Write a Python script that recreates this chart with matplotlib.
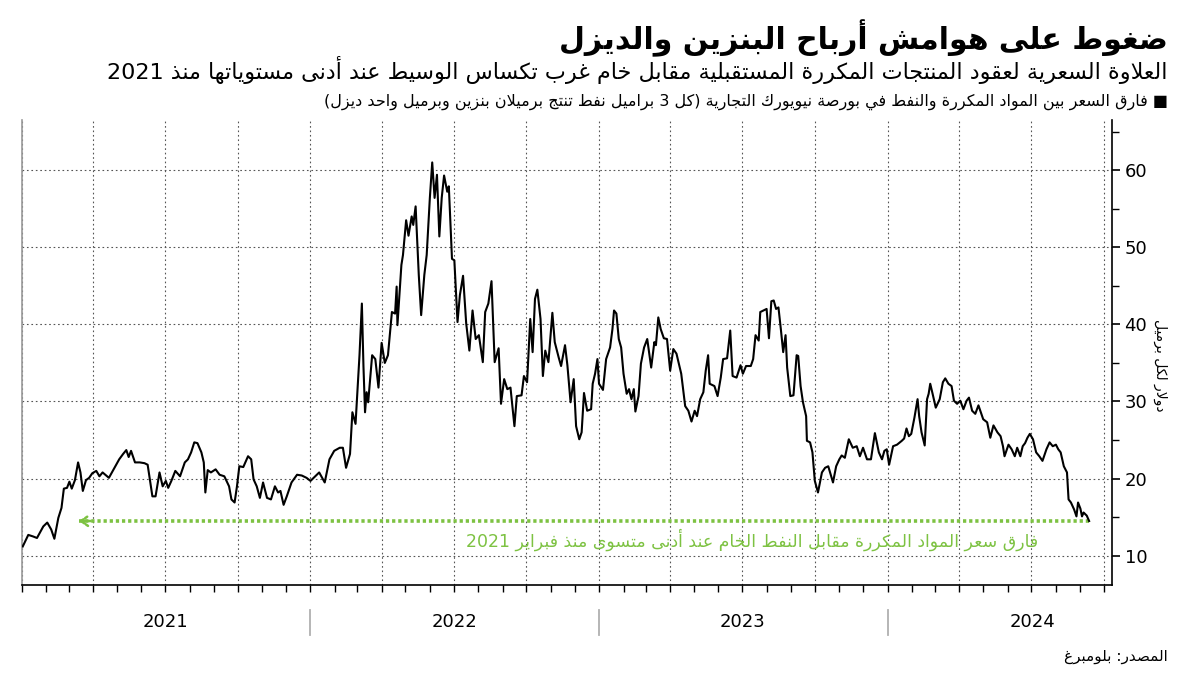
import re
import numpy as np
import pandas as pd
import matplotlib
matplotlib.use('Agg')
import matplotlib.pyplot as plt
import matplotlib.dates as mdates
import matplotlib.transforms as mtransforms
from matplotlib.ticker import MultipleLocator

# refined-products vs crude spread, USD per barrel
dates_2021 = ['2021-01-02', '2021-01-09', '2021-01-15', '2021-01-20', '2021-01-28', '2021-02-02', '2021-02-07',
              '2021-02-11', '2021-02-16', '2021-02-20', '2021-02-23', '2021-02-27', '2021-03-02', '2021-03-05',
              '2021-03-09', '2021-03-13', '2021-03-16', '2021-03-19', '2021-03-23', '2021-03-27', '2021-03-31',
              '2021-04-05', '2021-04-09', '2021-04-13', '2021-04-21', '2021-04-28', '2021-05-04', '2021-05-09',
              '2021-05-13', '2021-05-16', '2021-05-19', '2021-05-24', '2021-05-30', '2021-06-05', '2021-06-09',
              '2021-06-15', '2021-06-19', '2021-06-24', '2021-06-28', '2021-07-02', '2021-07-05', '2021-07-09',
              '2021-07-14', '2021-07-20', '2021-07-26', '2021-07-30', '2021-08-03', '2021-08-07', '2021-08-11',
              '2021-08-16', '2021-08-19', '2021-08-21', '2021-08-24', '2021-08-28', '2021-09-03', '2021-09-08',
              '2021-09-14', '2021-09-20', '2021-09-23', '2021-09-27', '2021-09-30', '2021-10-03', '2021-10-08',
              '2021-10-14', '2021-10-18', '2021-10-21', '2021-10-25', '2021-10-29', '2021-11-02', '2021-11-07',
              '2021-11-12', '2021-11-17', '2021-11-21', '2021-11-24', '2021-11-28', '2021-12-02', '2021-12-08',
              '2021-12-15', '2021-12-21', '2021-12-27']
spread_2021 = [11.2, 12.7, 12.5, 12.3, 13.8, 14.3, 13.4, 12.2, 14.9, 16.2, 18.7, 18.8, 19.6, 18.7,
               19.8, 22.1, 20.8, 18.4, 19.8, 20.1, 20.7, 21.0, 20.3, 20.8, 20.1, 21.4, 22.5, 23.2,
               23.7, 22.8, 23.6, 22.1, 22.1, 22.0, 21.8, 17.7, 17.7, 20.8, 19.0, 19.7, 18.8, 19.7,
               21.0, 20.3, 22.1, 22.5, 23.4, 24.7, 24.6, 23.4, 22.1, 18.2, 21.1, 20.8, 21.2, 20.5,
               20.3, 19.0, 17.3, 16.9, 19.0, 21.6, 21.5, 22.9, 22.5, 19.9, 19.0, 17.5, 19.5, 17.5,
               17.3, 19.0, 18.2, 18.4, 16.6, 17.7, 19.5, 20.5, 20.4, 20.1]

dates_2022 = ['2022-01-01', '2022-01-07', '2022-01-12', '2022-01-19', '2022-01-25', '2022-01-31', '2022-02-07',
              '2022-02-11', '2022-02-15', '2022-02-20', '2022-02-23', '2022-02-27', '2022-03-02', '2022-03-04',
              '2022-03-07', '2022-03-09', '2022-03-11', '2022-03-13', '2022-03-15', '2022-03-20', '2022-03-24',
              '2022-03-28', '2022-04-01', '2022-04-05', '2022-04-09', '2022-04-14', '2022-04-18', '2022-04-20',
              '2022-04-21', '2022-04-26', '2022-04-28', '2022-05-02', '2022-05-05', '2022-05-09', '2022-05-11',
              '2022-05-14', '2022-05-18', '2022-05-21', '2022-05-25', '2022-05-28', '2022-06-01', '2022-06-04',
              '2022-06-07', '2022-06-10', '2022-06-13', '2022-06-16', '2022-06-19', '2022-06-23', '2022-06-25',
              '2022-06-29', '2022-07-02', '2022-07-06', '2022-07-09', '2022-07-13', '2022-07-17', '2022-07-21',
              '2022-07-25', '2022-07-29', '2022-08-02', '2022-08-07', '2022-08-10', '2022-08-14', '2022-08-18',
              '2022-08-22', '2022-08-27', '2022-08-30', '2022-09-03', '2022-09-07', '2022-09-11', '2022-09-16',
              '2022-09-19', '2022-09-25', '2022-09-28', '2022-10-02', '2022-10-06', '2022-10-09', '2022-10-12',
              '2022-10-15', '2022-10-19', '2022-10-22', '2022-10-25', '2022-10-29', '2022-11-03', '2022-11-06',
              '2022-11-11', '2022-11-14', '2022-11-19', '2022-11-22', '2022-11-26', '2022-11-30', '2022-12-03',
              '2022-12-07', '2022-12-10', '2022-12-13', '2022-12-17', '2022-12-22', '2022-12-24', '2022-12-27',
              '2022-12-30']
spread_2022 = [19.7, 20.3, 20.8, 19.5, 22.5, 23.6, 24.0, 24.0, 21.4, 23.2, 28.6, 27.1, 32.5, 36.0,
               42.7, 34.6, 28.6, 31.2, 29.9, 36.0, 35.5, 31.8, 37.6, 35.0, 36.0, 41.6, 41.4, 44.9,
               39.9, 47.7, 49.0, 53.5, 51.5, 54.0, 52.9, 55.3, 46.4, 41.2, 46.4, 49.0, 56.4, 61.0,
               56.4, 59.4, 51.4, 56.4, 59.3, 57.2, 57.9, 48.5, 48.3, 40.3, 43.8, 46.3, 40.1, 36.6,
               41.8, 38.1, 38.6, 35.1, 41.6, 42.7, 45.6, 35.1, 36.9, 29.7, 32.9, 31.6, 31.8, 26.8,
               30.7, 30.8, 33.3, 32.5, 40.7, 36.4, 43.3, 44.5, 40.7, 33.3, 36.6, 35.1, 41.5, 37.7,
               35.7, 34.6, 37.3, 34.7, 29.9, 32.9, 26.8, 25.1, 26.0, 31.1, 28.8, 29.0, 32.3, 33.6,
               35.5]

dates_2023 = ['2023-01-01', '2023-01-06', '2023-01-10', '2023-01-15', '2023-01-18', '2023-01-20', '2023-01-23',
              '2023-01-26', '2023-01-29', '2023-02-01', '2023-02-05', '2023-02-08', '2023-02-11', '2023-02-14',
              '2023-02-16', '2023-02-20', '2023-02-23', '2023-02-27', '2023-03-03', '2023-03-08', '2023-03-12',
              '2023-03-14', '2023-03-17', '2023-03-20', '2023-03-24', '2023-03-28', '2023-04-01', '2023-04-05',
              '2023-04-09', '2023-04-15', '2023-04-20', '2023-04-24', '2023-04-28', '2023-05-02', '2023-05-05',
              '2023-05-09', '2023-05-13', '2023-05-16', '2023-05-19', '2023-05-21', '2023-05-27', '2023-05-31',
              '2023-06-04', '2023-06-07', '2023-06-12', '2023-06-16', '2023-06-19', '2023-06-24', '2023-06-29',
              '2023-07-02', '2023-07-06', '2023-07-12', '2023-07-15', '2023-07-18', '2023-07-22', '2023-07-24',
              '2023-07-28', '2023-08-01', '2023-08-04', '2023-08-07', '2023-08-10', '2023-08-13', '2023-08-16',
              '2023-08-19', '2023-08-22', '2023-08-25', '2023-08-27', '2023-08-31', '2023-09-04', '2023-09-08',
              '2023-09-10', '2023-09-13', '2023-09-16', '2023-09-20', '2023-09-21', '2023-09-25', '2023-09-28',
              '2023-10-01', '2023-10-05', '2023-10-10', '2023-10-14', '2023-10-18', '2023-10-24', '2023-10-28',
              '2023-11-01', '2023-11-04', '2023-11-08', '2023-11-13', '2023-11-18', '2023-11-23', '2023-11-27',
              '2023-12-01', '2023-12-06', '2023-12-11', '2023-12-16', '2023-12-21', '2023-12-25', '2023-12-28',
              '2023-12-31']
spread_2023 = [32.3, 31.5, 35.5, 37.0, 39.4, 41.8, 41.4, 38.1, 37.0, 33.6, 31.0, 31.6, 30.3, 31.6,
               28.7, 30.7, 34.9, 37.0, 38.1, 34.4, 37.7, 37.3, 40.9, 39.4, 38.2, 38.1, 34.0, 36.8,
               36.2, 33.6, 29.4, 28.8, 27.4, 28.8, 28.1, 30.3, 31.2, 34.0, 36.0, 32.3, 32.0, 30.7,
               33.1, 35.5, 35.6, 39.2, 33.3, 33.1, 34.7, 33.6, 34.6, 34.6, 35.5, 38.6, 37.9, 41.6,
               41.8, 42.0, 38.2, 43.0, 43.1, 42.0, 42.2, 39.4, 36.4, 38.6, 34.4, 30.7, 30.8, 36.0,
               35.9, 32.0, 29.9, 28.1, 24.9, 24.7, 23.4, 19.7, 18.2, 20.8, 21.4, 21.6, 19.5, 21.6,
               22.5, 23.0, 22.7, 25.1, 24.0, 24.2, 22.9, 24.0, 22.5, 22.5, 25.9, 23.4, 22.5, 23.6,
               23.8]

dates_2024 = ['2024-01-03', '2024-01-08', '2024-01-13', '2024-01-19', '2024-01-22', '2024-01-25', '2024-01-28',
              '2024-01-31', '2024-02-04', '2024-02-08', '2024-02-10', '2024-02-13', '2024-02-17', '2024-02-20',
              '2024-02-22', '2024-02-24', '2024-02-27', '2024-03-02', '2024-03-07', '2024-03-11', '2024-03-14',
              '2024-03-18', '2024-03-22', '2024-03-25', '2024-03-29', '2024-04-02', '2024-04-06', '2024-04-10',
              '2024-04-13', '2024-04-17', '2024-04-21', '2024-04-25', '2024-05-01', '2024-05-06', '2024-05-10',
              '2024-05-14', '2024-05-19', '2024-05-23', '2024-05-26', '2024-05-28', '2024-06-02', '2024-06-06',
              '2024-06-10', '2024-06-13', '2024-06-17', '2024-06-20', '2024-06-23', '2024-06-26', '2024-06-29',
              '2024-07-03', '2024-07-07', '2024-07-11', '2024-07-15', '2024-07-20', '2024-07-24', '2024-07-28',
              '2024-08-01', '2024-08-04', '2024-08-07', '2024-08-11', '2024-08-15', '2024-08-17', '2024-08-20',
              '2024-08-24', '2024-08-27', '2024-08-29', '2024-09-01', '2024-09-03', '2024-09-05', '2024-09-09',
              '2024-09-12']
spread_2024 = [21.8, 24.2, 24.4, 24.9, 25.2, 26.5, 25.5, 25.8, 27.9, 30.3, 28.1, 26.0, 24.3, 30.3,
               31.0, 32.3, 31.0, 29.2, 30.3, 32.5, 33.0, 32.3, 32.0, 30.1, 29.7, 30.1, 29.0, 30.1,
               30.5, 28.8, 28.4, 29.5, 27.7, 27.3, 25.3, 26.9, 26.0, 25.5, 24.2, 22.9, 24.4, 23.8,
               22.9, 24.0, 22.9, 24.2, 24.6, 25.3, 25.8, 25.1, 23.4, 22.9, 22.3, 23.8, 24.7, 24.2,
               24.4, 23.8, 23.4, 21.6, 20.8, 17.3, 16.9, 16.0, 15.1, 16.9, 16.1, 15.1, 15.6, 15.2,
               14.5]

years = ['2021', '2022', '2023', '2024']
arrow_from = '2021-03-14'

title = 'ضغوط على هوامش أرباح البنزين والديزل'
subtitle = 'العلاوة السعرية لعقود المنتجات المكررة المستقبلية مقابل خام غرب تكساس الوسيط عند أدنى مستوياتها منذ 2021'
legend_txt = '■ فارق السعر بين المواد المكررة والنفط في بورصة نيويورك التجارية (كل 3 براميل نفط تنتج برميلان بنزين وبرميل واحد ديزل)'
note_txt = 'فارق سعر المواد المكررة مقابل النفط الخام عند أدنى متسوى منذ فبراير 2021'
ylabel_txt = 'دولار لكل برميل'
source_txt = 'المصدر: بلومبرغ'

# --- minimal arabic shaping + right-to-left ordering (no reshaper libs available) ---
JOIN4 = {'ئ': 0xFE89, 'ب': 0xFE8F, 'ت': 0xFE95, 'ث': 0xFE99, 'ج': 0xFE9D, 'ح': 0xFEA1, 'خ': 0xFEA5,
         'س': 0xFEB1, 'ش': 0xFEB5, 'ص': 0xFEB9, 'ض': 0xFEBD, 'ط': 0xFEC1, 'ظ': 0xFEC5, 'ع': 0xFEC9,
         'غ': 0xFECD, 'ف': 0xFED1, 'ق': 0xFED5, 'ك': 0xFED9, 'ل': 0xFEDD, 'م': 0xFEE1, 'ن': 0xFEE5,
         'ه': 0xFEE9, 'ي': 0xFEF1}
JOIN2 = {'آ': 0xFE81, 'أ': 0xFE83, 'ؤ': 0xFE85, 'إ': 0xFE87, 'ا': 0xFE8D, 'ة': 0xFE93, 'د': 0xFEA9,
         'ذ': 0xFEAB, 'ر': 0xFEAD, 'ز': 0xFEAF, 'و': 0xFEED, 'ى': 0xFEEF}
LAMALEF = {'آ': 0xFEF5, 'أ': 0xFEF7, 'إ': 0xFEF9, 'ا': 0xFEFB}


def shape(s):
    chars = []
    i = 0
    while i < len(s):
        if s[i] == 'ل' and i + 1 < len(s) and s[i + 1] in LAMALEF:
            chars.append(('LA', LAMALEF[s[i + 1]]))
            i += 2
        else:
            chars.append((s[i], None))
            i += 1
    out = []
    for k, c in enumerate(chars):
        can_prev = c[0] in JOIN4 or c[0] in JOIN2 or c[0] == 'LA'
        prev = k > 0 and chars[k - 1][0] in JOIN4 and can_prev
        nxt = (k + 1 < len(chars) and c[0] in JOIN4 and
               (chars[k + 1][0] in JOIN4 or chars[k + 1][0] in JOIN2 or chars[k + 1][0] == 'LA'))
        if c[0] == 'LA':
            out.append(chr(c[1] + (1 if prev else 0)))
        elif c[0] in JOIN4:
            off = 3 if (prev and nxt) else 2 if nxt else 1 if prev else 0
            out.append(chr(JOIN4[c[0]] + off))
        elif c[0] in JOIN2:
            out.append(chr(JOIN2[c[0]] + (1 if prev else 0)))
        else:
            out.append(c[0])
    return ''.join(out)


def rtl(s):
    mirror = {'(': ')', ')': '('}
    parts = re.split(r'(\d+)', shape(s))
    res = []
    for p in reversed(parts):
        if p.isdigit():
            res.append(p)
        else:
            res.append(''.join(mirror.get(ch, ch) for ch in reversed(p)))
    return ''.join(res)


plt.rcParams['font.family'] = ['DejaVu Sans']

dates = pd.to_datetime(dates_2021 + dates_2022 + dates_2023 + dates_2024)
spread = np.array(spread_2021 + spread_2022 + spread_2023 + spread_2024)

green = '#7dc242'

fig = plt.figure(figsize=(12, 6.75), dpi=100)
ax = fig.add_axes([0.0183, 0.1333, 0.9084, 0.6889])

ax.plot(dates, spread, color='black', lw=1.5, zorder=3)

# green dotted arrow back to the last time the spread was this low
start = pd.Timestamp(arrow_from)
ax.plot([start, dates[-1]], [spread[-1], spread[-1]], color=green, lw=2.6,
        linestyle=(0, (0.9, 0.8)), zorder=2)
ax.annotate('', xy=(start, spread[-1]), xytext=(start + pd.Timedelta(days=15), spread[-1]),
            arrowprops=dict(arrowstyle='->,head_length=0.5,head_width=0.35', color=green, lw=1.8,
                            linestyle=(0, (1, 0.8)), shrinkA=0, shrinkB=0), zorder=2)
ax.text(pd.Timestamp('2024-07-09'), 12.1, rtl(note_txt), color=green, fontsize=12.5,
        ha='right', va='center')

ax.set_xlim(pd.Timestamp('2021-01-01'), pd.Timestamp('2024-10-11'))
ax.set_ylim(6.2, 66.5)

ax.xaxis.set_major_locator(mdates.MonthLocator(bymonth=[1, 4, 7, 10]))
ax.xaxis.set_minor_locator(mdates.MonthLocator())
ax.tick_params(axis='x', which='both', length=5, width=1, labelbottom=False, color='black')

ax.yaxis.tick_right()
ax.yaxis.set_major_locator(MultipleLocator(10))
ax.yaxis.set_minor_locator(MultipleLocator(5))
ax.tick_params(axis='y', which='major', length=6, width=1.2, labelsize=13, pad=3)
ax.tick_params(axis='y', which='minor', length=5, width=1)

ax.grid(True, which='major', axis='both', color='#555555', lw=0.8, linestyle=(0, (1.5, 2.5)))

ax.spines['top'].set_visible(False)
ax.spines['left'].set_color('#999999')
ax.spines['left'].set_linewidth(1.2)
ax.spines['right'].set_linewidth(1.2)
ax.spines['bottom'].set_linewidth(1.2)

# year labels and separators under the axis
trans = mtransforms.blended_transform_factory(ax.transData, ax.transAxes)
for y in years:
    ystart = pd.Timestamp(y + '-01-01')
    ax.text(pd.Timestamp(y + '-07-02'), -0.08, y, transform=trans, ha='center', va='center', fontsize=13)
    if y != '2021':
        ax.plot([ystart, ystart], [-0.054, -0.108], transform=trans, color='#b0b0b0', lw=1.3, clip_on=False)

fig.text(0.967, 0.459, rtl(ylabel_txt), rotation=270, ha='center', va='center', fontsize=10)

fig.text(0.973, 0.944, rtl(title), ha='right', va='center', fontsize=21.5, fontweight='bold')
fig.text(0.973, 0.896, rtl(subtitle), ha='right', va='center', fontsize=16)
fig.text(0.973, 0.849, rtl(legend_txt), ha='right', va='center', fontsize=11.5)
fig.text(0.973, 0.027, rtl(source_txt), ha='right', va='center', fontsize=11)

fig.savefig('out.png', dpi=100)
